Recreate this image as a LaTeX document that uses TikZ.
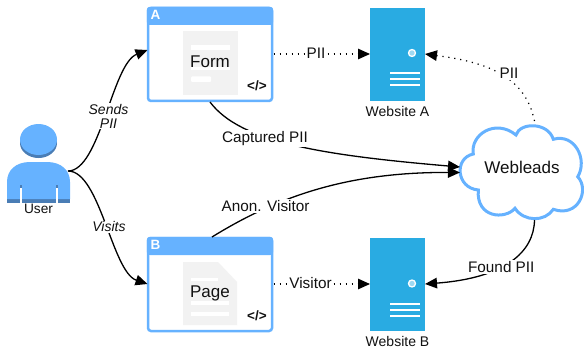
\documentclass[tikz,border=0pt]{standalone}
\usepackage{fontspec}
\setmainfont{Liberation Sans}
\usetikzlibrary{arrows.meta}
\definecolor{sky}{HTML}{66B2FF}
\definecolor{skydark}{HTML}{4A7DB5}
\definecolor{srv}{HTML}{29ABE2}
\definecolor{docg}{HTML}{F2F2F2}
\definecolor{ink}{HTML}{111111}
\newcommand{\fsz}[1]{\fontsize{#1}{#1}\selectfont}
\tikzset{
  x=1pt,y=-1pt,
  every node/.style={inner sep=0pt,outer sep=0pt,text=ink,anchor=base},
  boxframe/.style={anchor=center,draw=sky,line width=2.5pt,fill=white,rounded corners=3pt,minimum width=124pt,minimum height=93pt},
  server/.style={anchor=center,fill=srv,minimum width=55pt,minimum height=93pt},
  flow/.style={line width=1.3pt,-{Triangle[length=12pt,width=10.5pt]}},
  flowdot/.style={line width=1.2pt,dash pattern=on 1.2pt off 4.8pt,-{Triangle[length=12pt,width=10.5pt]}},
  lbl/.style={fill=white,font=\fsz{15.3},inner sep=1.5pt},
  italbl/.style={fill=white,font=\fsz{14}\itshape,inner sep=1pt},
  captext/.style={font=\fsz{14}},
  bigtext/.style={font=\fsz{17}},
  hdrtext/.style={font=\fsz{13.5}\bfseries,text=white},
  codetag/.style={font=\fsz{13.5}\bfseries},
  wline/.style={fill=white},
}
\begin{document}
\begin{tikzpicture}
\useasboundingbox (0,0) rectangle (584,353);
% box A
\node[boxframe] (boxA) at (210,54.5) {};
\fill[sky,rounded corners=3pt] (146.8,25) -- (146.8,6.8) -- (273.2,6.8) -- (273.2,25) -- cycle;
\fill[docg] (183,31) rectangle (238,95);
\fill[wline] (191,45) rectangle (230,50);
\fill[wline] (191,67) rectangle (230,70);
\fill[wline,rounded corners=1pt] (191,76.5) rectangle (211,82);
\node[bigtext] (formT) at (210,67) {Form};
\node[hdrtext] (hA) at (155.5,19.5) {A};
\node[codetag] (cA) at (257,90.5) {</>};
% box B
\node[boxframe] (boxB) at (210,284.5) {};
\fill[sky,rounded corners=3pt] (146.8,255) -- (146.8,236.8) -- (273.2,236.8) -- (273.2,255) -- cycle;
\fill[docg] (183,262) -- (218,262) -- (237,282) -- (237,325) -- (183,325) -- cycle;
\fill[wline] (191,278) rectangle (218,281);
\fill[wline] (191,301) rectangle (229,304.5);
\fill[wline] (191,312) rectangle (229,315.5);
\node[bigtext] (pageT) at (210,297) {Page};
\node[hdrtext] (hB) at (155.5,249.5) {B};
\node[codetag] (cB) at (257,320.5) {</>};
% servers
\node[server] (siteA) at (397.5,54.5) {};
\fill[white] (412,53) circle (4.2);
\fill[srv!45!white] (412,53) circle (2.7);
\fill[wline] (390,72.5) rectangle (420,74.5);
\fill[wline] (390,78.2) rectangle (420,80.2);
\fill[wline] (390,84) rectangle (420,86);
\node[captext] (capA) at (397.5,116) {Website A};
\node[server] (siteB) at (397.5,284.7) {};
\fill[white] (412,283.5) circle (4.2);
\fill[srv!45!white] (412,283.5) circle (2.7);
\fill[wline] (390,303) rectangle (420,305);
\fill[wline] (390,309) rectangle (420,311);
\fill[wline] (390,315) rectangle (420,317);
\node[captext] (capB) at (397.5,346) {Website B};
% user
\fill[skydark] (38.5,143) ellipse (18.5 and 15);
\fill[sky] (38.5,139.5) ellipse (18.5 and 15.5);
\fill[skydark] (7,196) rectangle (70,203);
\fill[sky] (7,199) -- (7,182) .. controls (7,170) and (16,162) .. (30,162) -- (47,162) .. controls (61,162) and (70,170) .. (70,182) -- (70,199) -- cycle;
\fill[white] (20,185) rectangle (22,203);
\fill[white] (56,185) rectangle (58,203);
\fill[skydark] (20,185) rectangle (22,188);
\fill[skydark] (56,185) rectangle (58,188);
\node[font=\fsz{13.7}] (user) at (38.5,213.5) {User};
\coordinate (userOut) at (68,171);
% cloud
\draw[sky,line width=3pt,fill=white]
 (473.3,154) .. controls (470,135) and (495,118) .. (516,135)
 .. controls (520,122) and (548,122) .. (553.3,139.3)
 .. controls (575,133) and (588,160) .. (577.7,176.7)
 .. controls (590,190) and (578,218) .. (553.3,209.3)
 .. controls (545,222) and (524,222) .. (515,208.3)
 .. controls (505,220) and (476,218) .. (478.3,190)
 .. controls (456,188) and (454,158) .. (473.3,154) -- cycle;
\node[bigtext] (cloud) at (522,173.5) {Webleads};
\coordinate (cloudTop) at (534.5,121);
\coordinate (cloudBot) at (534.5,220);
\coordinate (cloudInA) at (460,167);
\coordinate (cloudInB) at (460,172.5);
\coordinate (boxAin) at (147.5,50);
\coordinate (boxBin) at (147.5,284);
\coordinate (boxAout) at (273.5,54);
\coordinate (boxBout) at (273.5,284);
\coordinate (boxAbot) at (210,102);
\coordinate (boxBtop) at (212,237);
\coordinate (siteAr) at (425,54);
\coordinate (siteBr) at (425,284);
\coordinate (siteAl) at (370,54);
\coordinate (siteBl) at (370,284);
% connectors
\draw[flow] (userOut) .. controls (100,171) and (112,64) .. (boxAin);
\draw[flow] (userOut) .. controls (100,171) and (112,272) .. (boxBin);
\draw[flowdot] (boxAout) -- (siteAl);
\draw[flowdot] (boxBout) -- (siteBl);
\draw[flowdot] (cloudTop) .. controls (525,75) and (485,62) .. (siteAr);
\draw[flow] (cloudBot) .. controls (534,252) and (505,278) .. (siteBr);
\draw[flow] (boxAbot) .. controls (240,142) and (320,155) .. (cloudInA);
\draw[flow] (boxBtop) .. controls (280,195) and (350,172) .. (cloudInB);
% labels
\node[italbl,text width=44pt,align=center] (l1) at (108.5,114) {\setlength{\baselineskip}{17pt}Sends\\PII};
\node[italbl] (l2) at (109,231.7) {Visits};
\node[lbl] (l3) at (316,58.5) {PII};
\node[lbl] (l4) at (310.5,288.5) {Visitor};
\node[lbl] (l5) at (509,79) {PII};
\node[lbl] (l6) at (501.3,272.7) {Found PII};
\node[lbl] (l7) at (265,142.7) {Captured PII};
\node[lbl] (l8) at (265.5,211.7) {Anon. Visitor};
\end{tikzpicture}
\end{document}
